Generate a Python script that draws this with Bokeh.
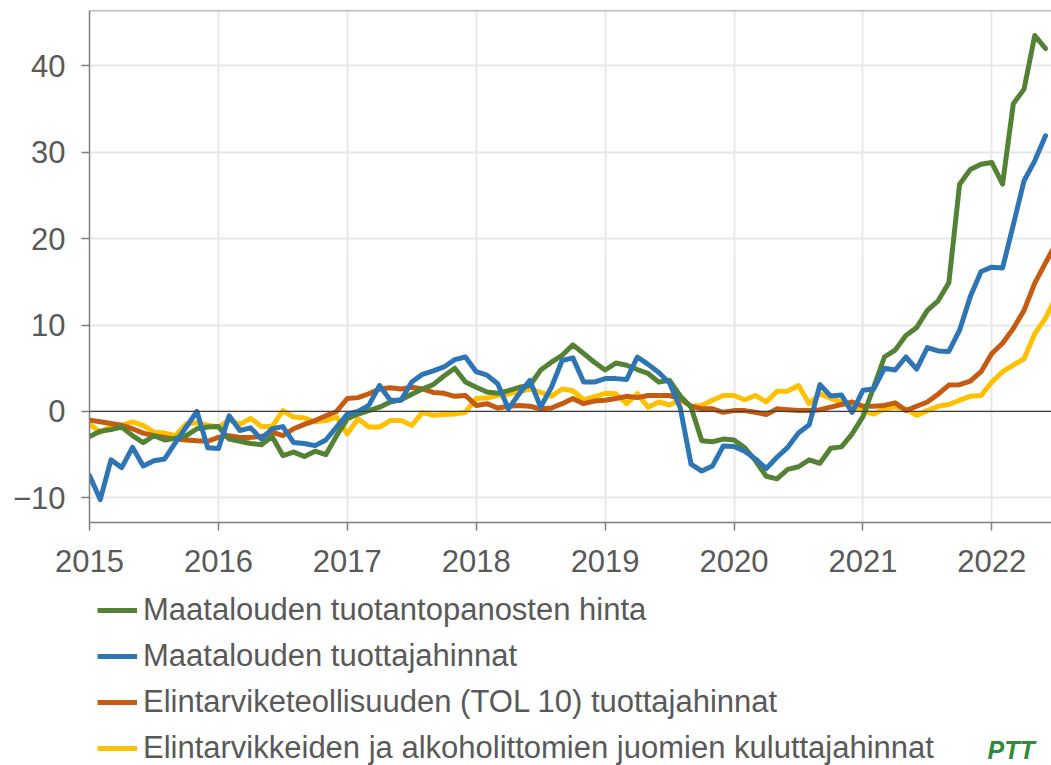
from bokeh.plotting import figure
from bokeh.layouts import column
from bokeh.models import Legend, LegendItem, Span, FixedTicker, Range1d, Label
from bokeh.embed import file_html
from bokeh.resources import INLINE

# Monthly year-on-year change (%), Jan 2015 onwards
year_ticks = [2015, 2016, 2017, 2018, 2019, 2020, 2021, 2022]
value_ticks = [-10, 0, 10, 20, 30, 40]

names = [
    "Maatalouden tuotantopanosten hinta",
    "Maatalouden tuottajahinnat",
    "Elintarviketeollisuuden (TOL 10) tuottajahinnat",
    "Elintarvikkeiden ja alkoholittomien juomien kuluttajahinnat",
]

input_prices = [
    -2.9, -2.3, -2.1, -1.8, -2.8, -3.6, -2.8, -3.3, -3.1, -2.8, -2.0, -1.8,
    -1.75, -3.2, -3.45, -3.7, -3.85, -2.9, -5.1, -4.7, -5.2, -4.6, -5.0, -2.8,
    -0.85, -0.3, 0.1, 0.5, 1.1, 1.35, 2.0, 2.6, 3.1, 4.1, 5.0, 3.4,
    2.8, 2.25, 2.1, 2.4, 2.8, 3.0, 4.8, 5.7, 6.5, 7.7, 6.7, 5.7,
    4.8, 5.6, 5.35, 4.85, 4.4, 3.4, 3.6, 1.8, 0.5, -3.4, -3.5, -3.2,
    -3.3, -4.2, -5.7, -7.5, -7.8, -6.7, -6.4, -5.6, -6.0, -4.25, -4.1, -2.6,
    -0.6, 2.8, 6.3, 7.1, 8.8, 9.7, 11.7, 12.8, 14.9, 26.3, 28.0, 28.6,
    28.8, 26.3, 35.6, 37.3, 43.5, 42.0,
]

producer_prices = [
    -7.4, -10.2, -5.6, -6.5, -4.15, -6.3, -5.7, -5.5, -3.6, -1.8, 0.0, -4.2,
    -4.3, -0.5, -2.2, -1.9, -3.2, -2.0, -1.75, -3.6, -3.7, -3.95, -3.3, -1.8,
    -0.3, 0.0, 0.7, 3.0, 1.3, 1.3, 3.4, 4.3, 4.7, 5.15, 6.0, 6.3,
    4.6, 4.2, 3.2, 0.3, 2.05, 3.6, 0.5, 2.8, 5.9, 6.2, 3.4, 3.4,
    3.8, 3.8, 3.7, 6.3, 5.45, 4.5, 3.3, 0.4, -6.1, -6.9, -6.3, -4.0,
    -4.05, -4.6, -5.5, -6.6, -5.3, -4.15, -2.5, -1.55, 3.1, 1.8, 1.9, -0.1,
    2.45, 2.6, 5.0, 4.8, 6.3, 4.9, 7.4, 7.0, 6.95, 9.4, 13.3, 16.2,
    16.7, 16.6, 21.6, 26.7, 29.0, 31.9,
]

industry_prices = [
    -1.0, -1.2, -1.4, -1.6, -2.0, -2.5, -2.8, -3.0, -3.2, -3.3, -3.4, -3.45,
    -3.0, -2.8, -3.0, -3.0, -2.9, -2.4, -2.8, -2.0, -1.5, -1.05, -0.5, 0.0,
    1.5, 1.6, 2.05, 2.6, 2.75, 2.6, 2.8, 2.6, 2.2, 2.1, 1.75, 1.85,
    0.7, 0.9, 0.4, 0.6, 0.7, 0.6, 0.3, 0.4, 0.9, 1.5, 0.9, 1.2,
    1.3, 1.5, 1.75, 1.6, 1.85, 1.85, 1.85, 1.5, 0.6, 0.3, 0.3, -0.1,
    0.1, 0.1, -0.1, -0.35, 0.3, 0.2, 0.1, 0.1, 0.2, 0.5, 0.8, 1.1,
    0.6, 0.6, 0.7, 1.0, 0.1, 0.6, 1.1, 2.0, 3.05, 3.1, 3.5, 4.6,
    6.7, 7.9, 9.6, 11.7, 14.85, 17.2, 19.5,
]

consumer_prices = [
    -1.45, -2.4, -1.75, -1.6, -1.2, -1.6, -2.4, -2.5, -2.8, -1.45, -1.3, -1.6,
    -1.8, -1.0, -1.5, -0.8, -1.75, -1.75, 0.1, -0.65, -0.75, -1.2, -1.05, -0.65,
    -2.6, -0.85, -1.8, -1.8, -1.05, -1.05, -1.6, -0.1, -0.45, -0.35, -0.3, -0.1,
    1.5, 1.55, 1.85, 2.0, 2.3, 2.6, 2.2, 1.75, 2.6, 2.4, 1.35, 1.7,
    2.1, 2.05, 0.9, 2.05, 0.5, 1.1, 0.75, 1.35, 0.6, 0.7, 1.3, 1.85,
    1.85, 1.35, 1.85, 1.1, 2.35, 2.35, 3.0, 0.9, 2.05, 1.5, 1.1, 0.5,
    0.1, -0.3, 0.3, 0.5, 0.3, -0.45, 0.1, 0.6, 0.8, 1.3, 1.75, 1.85,
    3.4, 4.6, 5.35, 6.1, 9.0, 10.8, 13.3,
]

colors = ["#548235", "#2E75B6", "#C55A11", "#FFC000"]
series = [input_prices, producer_prices, industry_prices, consumer_prices]

FONT = "Liberation Sans"
FS = "31px"
TXT = "#595959"

# ---------------- main chart ----------------
p = figure(
    width=1051, height=584, output_backend="svg", toolbar_location=None,
    x_range=Range1d(2015, 2022.463), y_range=Range1d(-12.85, 46.4),
    min_border_left=89, min_border_right=0, min_border_top=10, min_border_bottom=62,
)
p.outline_line_color = None
p.background_fill_color = "white"
p.border_fill_color = "white"

p.xaxis.ticker = FixedTicker(ticks=year_ticks)
p.yaxis.ticker = FixedTicker(ticks=value_ticks)
p.yaxis.major_label_overrides = {-10: "\u221210"}
for ax in (p.xaxis, p.yaxis):
    ax.axis_line_color = "#7f7f7f"
    ax.axis_line_width = 1.5
    ax.major_tick_line_color = "#7f7f7f"
    ax.major_tick_line_width = 1.5
    ax.major_tick_out = 8
    ax.major_tick_in = 0
    ax.minor_tick_line_color = None
    ax.major_label_text_font = FONT
    ax.major_label_text_font_size = FS
    ax.major_label_text_color = TXT
p.xaxis.major_label_standoff = 19
p.yaxis.major_label_standoff = 16

p.xgrid.grid_line_color = "#e8e8e8"
p.ygrid.grid_line_color = "#e8e8e8"
p.xgrid.grid_line_width = 2
p.ygrid.grid_line_width = 2

p.add_layout(Span(location=46.4, dimension="width", line_color="#7f7f7f", line_width=1.5))
p.add_layout(Span(location=0, dimension="width", line_color="#404040", line_width=1.2))

renderers = []
for vals, col in zip(series, colors):
    xs = [2015 + i / 12 for i in range(len(vals))]
    r = p.line(xs, vals, line_color=col, line_width=5, line_join="round", line_cap="round")
    renderers.append(r)

# draw order: yellow, orange, green, blue on top
others = [r for r in p.renderers if r not in renderers]
p.renderers = others + [renderers[3], renderers[2], renderers[0], renderers[1]]

# ---------------- legend strip ----------------
q = figure(
    width=1051, height=181, output_backend="svg", toolbar_location=None,
    x_range=Range1d(0, 1), y_range=Range1d(0, 1),
    x_axis_type=None, y_axis_type=None,
    min_border_left=89, min_border_right=0, min_border_top=0, min_border_bottom=0,
)
q.outline_line_color = None
q.xgrid.visible = False
q.ygrid.visible = False
q.background_fill_color = "white"
q.border_fill_color = "white"

# legend swatches: renderers whose data sit outside the visible range
legend_renderers = [q.line([-2, -1], [-2, -2], line_color=col, line_width=5) for col in colors]
legend = Legend(
    items=[LegendItem(label=n, renderers=[r]) for n, r in zip(names, legend_renderers)],
    location="top_left", orientation="vertical",
    label_text_font=FONT, label_text_font_size=FS, label_text_color=TXT,
    glyph_width=40, glyph_height=20, label_height=20, label_standoff=6,
    spacing=10, padding=0, margin=8,
    border_line_color=None, background_fill_alpha=0,
)
q.add_layout(legend, "center")

logo = Label(x=898, y=2, x_units="screen", y_units="screen", text="PTT",
             text_font=FONT, text_font_style="bold italic", text_font_size="25px",
             text_color="#2e8b3a", text_baseline="bottom")
q.add_layout(logo)

layout = column(p, q, spacing=0)
open("out.html", "w").write(file_html(layout, INLINE))
